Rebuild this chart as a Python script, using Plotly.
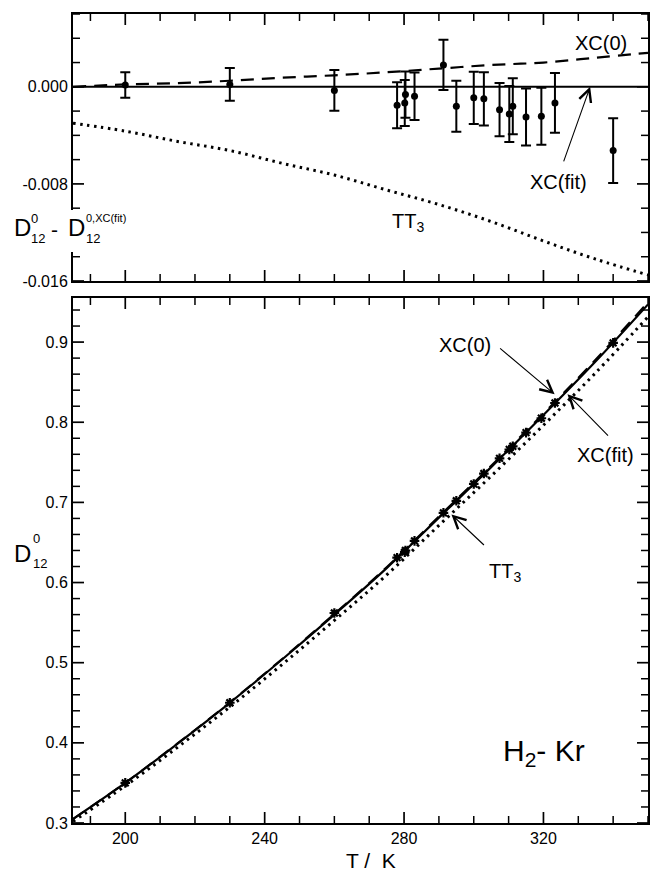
import plotly.graph_objects as go

# ---------------- data ----------------
T_exp = [200, 230, 260, 278, 280.2, 280.4, 283, 291.3, 295, 300, 302.9, 307.4, 310.2, 311.2, 315, 319.4, 323.3, 340]
dev_exp = [0.00015, 0.0002, -0.0003, -0.00152, -0.00133, -0.00064, -0.00078, 0.0018, -0.0016, -0.00091,
           -0.00099, -0.00188, -0.00224, -0.0016, -0.00249, -0.00243, -0.00133, -0.00525]
err_exp = [0.00105, 0.00135, 0.00168, 0.0019, 0.0019, 0.0019, 0.00196, 0.00207, 0.0021, 0.00216,
           0.0022, 0.0022, 0.0023, 0.0023, 0.00235, 0.00235, 0.00246, 0.00267]
D_exp = [0.350, 0.450, 0.562, 0.631, 0.638, 0.640, 0.652, 0.687, 0.702, 0.723,
         0.736, 0.755, 0.766, 0.770, 0.787, 0.805, 0.824, 0.899]

T_curve = [185, 200, 215, 230, 245, 260, 275, 290, 305, 320, 335, 350]
D_fit = [0.305, 0.350, 0.399, 0.450, 0.504, 0.560, 0.618, 0.681, 0.744, 0.809, 0.876, 0.947]
dev_xc0 = [0.0, 0.0002, 0.0003, 0.0005, 0.00075, 0.00095, 0.0012, 0.0015, 0.0018, 0.0020, 0.0024, 0.0028]
dev_tt3 = [-0.0030, -0.00365, -0.0045, -0.00525, -0.0063, -0.00727, -0.0085, -0.0097, -0.0111, -0.0127, -0.0142, -0.0155]
dev_fit = [0.0] * len(T_curve)

D_xc0 = [d + e for d, e in zip(D_fit, dev_xc0)]
D_tt3 = [d + e for d, e in zip(D_fit, dev_tt3)]

T_range = [185, 350]
top_range = [-0.016, 0.006]
bot_range = [0.3, 0.955]

# tick values (axis values, not data)
x_major = [200, 240, 280, 320]
x_minor = [t for t in range(190, 351, 10) if t not in x_major]
top_major = [-0.016, -0.008, 0.0]
top_minor = [round(-0.016 + 0.002 * i, 4) for i in range(12) if round(-0.016 + 0.002 * i, 4) not in top_major]
bot_major = [0.3, 0.4, 0.5, 0.6, 0.7, 0.8, 0.9]
bot_minor = [round(0.3 + 0.02 * i, 2) for i in range(33) if round(0.3 + 0.02 * i, 2) not in bot_major]

# ---------------- figure ----------------
W, H = 652, 871
ML, MR, MT, MB = 73, 2, 14, 48
PW, PH = W - ML - MR, H - MT - MB
FONT = "Liberation Sans, Arial, Helvetica, sans-serif"
BLACK = "#000000"

fig = go.Figure()

fig.add_trace(go.Scatter(x=T_curve, y=dev_fit, mode="lines", line=dict(color=BLACK, width=2),
                         xaxis="x2", yaxis="y2", showlegend=False))
fig.add_trace(go.Scatter(x=T_curve, y=dev_xc0, mode="lines", line=dict(color=BLACK, width=2.2, dash="13px,8px"),
                         line_shape="spline", xaxis="x2", yaxis="y2", showlegend=False))
fig.add_trace(go.Scatter(x=T_curve, y=dev_tt3, mode="lines", line=dict(color=BLACK, width=3, dash="2.5px,4.5px"),
                         line_shape="spline", xaxis="x2", yaxis="y2", showlegend=False))
fig.add_trace(go.Scatter(x=T_exp, y=dev_exp, mode="markers",
                         marker=dict(color=BLACK, size=7, symbol="circle"),
                         error_y=dict(type="data", array=err_exp, visible=True, color=BLACK, thickness=2, width=5),
                         xaxis="x2", yaxis="y2", showlegend=False))

fig.add_trace(go.Scatter(x=T_curve, y=D_fit, mode="lines", line=dict(color=BLACK, width=2.2),
                         line_shape="spline", xaxis="x", yaxis="y", showlegend=False))
fig.add_trace(go.Scatter(x=T_curve, y=D_xc0, mode="lines", line=dict(color=BLACK, width=2, dash="13px,8px"),
                         line_shape="spline", xaxis="x", yaxis="y", showlegend=False))
fig.add_trace(go.Scatter(x=T_curve, y=D_tt3, mode="lines", line=dict(color=BLACK, width=3, dash="2.5px,4.5px"),
                         line_shape="spline", xaxis="x", yaxis="y", showlegend=False))
fig.add_trace(go.Scatter(x=T_exp, y=D_exp, mode="markers",
                         marker=dict(color=BLACK, size=8, symbol="asterisk-open", line=dict(color=BLACK, width=2.2)),
                         xaxis="x", yaxis="y", showlegend=False))

def px2paper(px, py):
    return (px - ML) / PW, 1 - (py - MT) / PH

top_dom = [px2paper(0, 281)[1], 1.0]
bot_dom = [0.0, px2paper(0, 298)[1]]

tickfont = dict(family=FONT, size=16, color=BLACK)
ax_style = dict(showline=True, linecolor=BLACK, linewidth=2, mirror=True, ticks="",
                showgrid=False, zeroline=False, tickfont=tickfont)

fig.update_layout(
    width=W, height=H,
    margin=dict(l=ML, r=MR, t=MT, b=MB, pad=0),
    paper_bgcolor="white", plot_bgcolor="white",
    font=dict(family=FONT, color=BLACK),
    xaxis=dict(domain=[0, 1], anchor="y", range=T_range, tickvals=x_major, **ax_style),
    yaxis=dict(domain=bot_dom, anchor="x", range=bot_range, tickvals=bot_major,
               ticktext=["%.1f" % v for v in bot_major], **ax_style),
    xaxis2=dict(domain=[0, 1], anchor="y2", range=T_range, tickvals=x_major, showticklabels=False, **ax_style),
    yaxis2=dict(domain=top_dom, anchor="x2", range=top_range, tickvals=top_major,
                ticktext=["%.3f" % v for v in top_major], **ax_style),
)

# inward tick marks: axis-anchored line shapes with pixel length
shapes = []

def xtick(t, xr, yr, yedge, length, width):
    shapes.append(dict(type="line", xref=xr, yref=yr, x0=t, x1=t, ysizemode="pixel", yanchor=yedge,
                       y0=0, y1=length, line=dict(color=BLACK, width=width), layer="above"))

def ytick(v, xr, yr, xedge, length, width):
    shapes.append(dict(type="line", xref=xr, yref=yr, y0=v, y1=v, xsizemode="pixel", xanchor=xedge,
                       x0=0, x1=length, line=dict(color=BLACK, width=width), layer="above"))

for xr, yr, rng, ymaj, ymin in [("x", "y", bot_range, bot_major, bot_minor),
                                ("x2", "y2", top_range, top_major, top_minor)]:
    for t in x_major:
        xtick(t, xr, yr, rng[0], 11, 1.7)
        xtick(t, xr, yr, rng[1], -11, 1.7)
    for t in x_minor:
        xtick(t, xr, yr, rng[0], 7, 1.5)
        xtick(t, xr, yr, rng[1], -7, 1.5)
    for v in ymaj:
        ytick(v, xr, yr, T_range[0], 11, 1.7)
        ytick(v, xr, yr, T_range[1], -11, 1.7)
    for v in ymin:
        ytick(v, xr, yr, T_range[0], 7, 1.5)
        ytick(v, xr, yr, T_range[1], -7, 1.5)

# white patch where the label crosses the left axis line of the top panel
x0, y0 = px2paper(66, 252)
x1, y1 = px2paper(82, 210)
shapes.append(dict(type="rect", xref="paper", yref="paper", x0=x0, x1=x1, y0=y0, y1=y1,
                   fillcolor="white", line=dict(width=0), layer="above"))

fig.update_layout(shapes=shapes)

ann = []

def text_px(txt, px, py, size, xanchor="center", bg=None):
    x, y = px2paper(px, py)
    d = dict(text=txt, x=x, y=y, xref="paper", yref="paper", showarrow=False,
             xanchor=xanchor, yanchor="middle", font=dict(family=FONT, size=size, color=BLACK))
    if bg:
        d["bgcolor"] = bg
        d["borderpad"] = 0
    ann.append(d)

def arrow(xd, yd, xr, yr, ax, ay):
    ann.append(dict(text="", x=xd, y=yd, xref=xr, yref=yr, ax=ax, ay=ay, axref="pixel", ayref="pixel",
                    showarrow=True, arrowhead=5, arrowsize=2.2, arrowwidth=1.1, arrowcolor=BLACK))

text_px("XC(0)", 603, 43, 20)
text_px("XC(fit)", 560, 182, 20)
text_px("TT<sub>3</sub>", 409, 222, 20)
arrow(333.4, 0.0, "x2", "y2", -27, 76)

text_px("XC(0)", 466, 345, 20)
text_px("XC(fit)", 607, 455, 20)
text_px("TT<sub>3</sub>", 507, 572, 20)
text_px("H<sub>2</sub>- Kr", 546, 752, 30)
arrow(323.2, 0.835, "x", "y", -56, -47)
arrow(326.9, 0.835, "x", "y", 42, 43)
arrow(293.6, 0.685, "x", "y", 34, 32)

text_px("T /  K", 372, 860, 21)

text_px("D", 12, 227, 24, xanchor="left")
text_px("0", 29, 218, 13, xanchor="left")
text_px("12", 29, 239, 13, xanchor="left")
text_px("-", 49, 229, 21, xanchor="left")
text_px("D", 67, 227, 24, xanchor="left", bg="white")
text_px("0,XC(fit)", 85, 218, 11, xanchor="left", bg="white")
text_px("12", 85, 239, 13, xanchor="left", bg="white")

text_px("D", 12, 553, 24, xanchor="left")
text_px("0", 31, 538, 13, xanchor="left")
text_px("12", 31, 563, 13, xanchor="left")

fig.update_layout(annotations=ann)

fig.write_html("out.html", config={"displayModeBar": False},
               post_script="document.body.style.margin='0';document.body.style.overflow='hidden';")
